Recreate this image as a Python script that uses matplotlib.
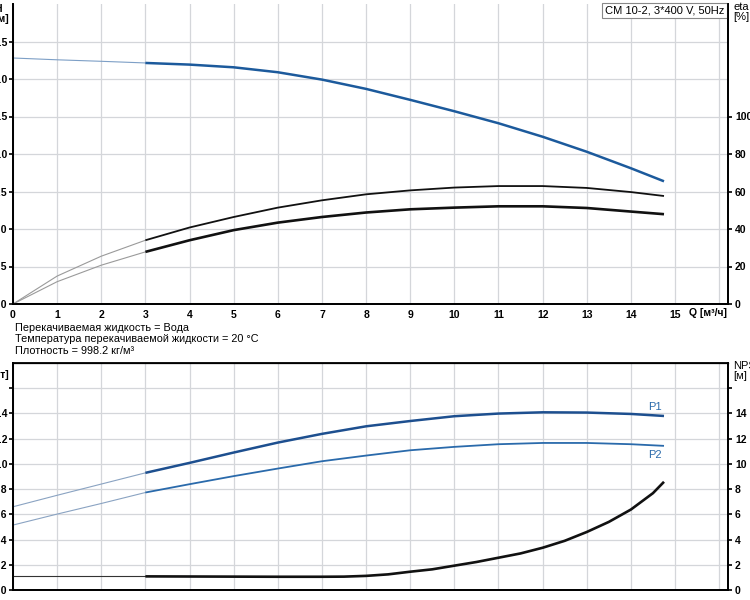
import matplotlib.pyplot as plt
import matplotlib.ticker as mticker

plt.rcParams['font.family'] = ['Liberation Sans', 'DejaVu Sans']

# flow points [m3/h]
q = [0, 1, 2, 3, 4, 5, 6, 7, 8, 9, 10, 11, 12, 13, 14, 14.75]
# head [m]
h = [16.4, 16.28, 16.18, 16.07, 15.96, 15.78, 15.45, 14.96, 14.34, 13.61,
     12.85, 12.05, 11.15, 10.15, 9.05, 8.18]
# efficiencies [%]
eta_a = [0, 14.9, 25.5, 34.0, 40.8, 46.4, 51.4, 55.3, 58.5, 60.6,
         62.1, 62.9, 62.9, 61.9, 59.7, 57.6]
eta_b = [0, 11.9, 20.7, 27.8, 34.0, 39.4, 43.4, 46.4, 48.8, 50.5,
         51.4, 52.1, 52.1, 51.2, 49.3, 47.9]
# power [kW]
p1 = [0.660, 0.751, 0.840, 0.929, 1.008, 1.090, 1.169, 1.238, 1.298, 1.340,
      1.378, 1.399, 1.409, 1.407, 1.396, 1.380]
p2 = [0.515, 0.602, 0.686, 0.773, 0.839, 0.903, 0.963, 1.021, 1.066, 1.108,
      1.135, 1.156, 1.166, 1.166, 1.156, 1.143]
# NPSH [m], read on a finer flow grid
q_npsh = [0, 1, 2, 3, 4, 5, 6, 7, 7.5, 8, 8.5, 9, 9.5, 10, 10.5, 11, 11.5,
          12, 12.5, 13, 13.5, 14, 14.5, 14.75]
npsh = [1.08, 1.08, 1.08, 1.08, 1.07, 1.06, 1.05, 1.05, 1.06, 1.12, 1.24,
        1.45, 1.64, 1.93, 2.22, 2.56, 2.9, 3.35, 3.9, 4.6, 5.4, 6.38,
        7.68, 8.58]

info = ["Перекачиваемая жидкость = Вода",
        "Температура перекачиваемой жидкости = 20 °C",
        "Плотность = 998.2 кг/м³"]

GRID = '#d4d6da'
TF = dict(fontsize=7.5, fontweight='bold')
Q_START = 3  # working range starts here


def two_part(ax, x, y, thin_c, thick_c, lw=1.6):
    k = x.index(Q_START)
    ax.plot(x[:k + 1], y[:k + 1], color=thin_c, lw=0.8)
    ax.plot(x[k:], y[k:], color=thick_c, lw=lw, solid_capstyle='butt',
            solid_joinstyle='round')


def style(ax, axr):
    ax.set_xlim(0, 16.2)
    ax.set_xticks(range(0, 17))
    ax.grid(True, color=GRID, lw=0.9)
    ax.set_axisbelow(True)
    ax.tick_params(axis='both', length=3, width=1.2, pad=1, labelsize=7.5)
    ax.tick_params(axis='x', length=0, pad=4)
    axr.tick_params(axis='y', length=3, width=1.2, pad=2, labelsize=7.5)
    for a in (ax, axr):
        for s in a.spines.values():
            s.set_linewidth(1.3)
        for lab in a.get_yticklabels() + a.get_xticklabels():
            lab.set_fontweight('bold')


fig = plt.figure(figsize=(7.5, 6), dpi=100)

# ---- top: H and eta ----
ax1 = fig.add_axes([13 / 750, 296 / 600, 715 / 750, 300 / 600])
ax1r = ax1.twinx()
ax1.set_ylim(0, 20)
ax1.set_yticks([0, 2.5, 5, 7.5, 10, 12.5, 15, 17.5])
ax1.yaxis.set_major_formatter(mticker.FormatStrFormatter('%.1f'))
ax1r.set_ylim(0, 160)
ax1r.set_yticks([0, 20, 40, 60, 80, 100])
ax1.spines['top'].set_visible(False)
ax1r.spines['top'].set_visible(False)
style(ax1, ax1r)
ax1.set_xticklabels([str(i) for i in range(16)] + [''], fontweight='bold')

two_part(ax1, q, h, '#7d9fc6', '#1c5a9c', lw=1.8)
two_part(ax1r, q, eta_a, '#9a9a9a', '#111111', lw=1.3)
two_part(ax1r, q, eta_b, '#9a9a9a', '#111111', lw=1.9)

ax1.text(15.74, -0.012, 'Q [м³/ч]', transform=ax1.get_xaxis_transform(),
         ha='center', va='top', **TF)
fig.text(9 / 750, 1 - 4 / 600, 'H\n[м]', ha='right', va='top',
         multialignment='left', linespacing=1.05, **TF)
fig.text(733 / 750, 1 - 2 / 600, 'eta\n[%]', ha='left', va='top',
         linespacing=1.05, fontsize=8)
ax1.text(0.995, 0.995, 'CM 10-2, 3*400 V, 50Hz', transform=ax1.transAxes,
         ha='right', va='top', fontsize=8,
         bbox=dict(boxstyle='square,pad=0.25', fc='white', ec='#888888', lw=0.8))

# ---- info text ----
for i, t in enumerate(info):
    fig.text(15 / 750, 1 - (327.7 + 11.7 * i) / 600, t, ha='left', va='center',
             fontsize=7.8)

# ---- bottom: P1/P2 and NPSH ----
ax2 = fig.add_axes([13 / 750, 10 / 600, 715 / 750, 227 / 600])
ax2r = ax2.twinx()
ax2.set_ylim(0, 1.8)
ax2.set_yticks([0, 0.2, 0.4, 0.6, 0.8, 1.0, 1.2, 1.4, 1.6])
ax2.set_yticklabels(['0.0', '0.2', '0.4', '0.6', '0.8', '1.0', '1.2', '1.4', ''])
ax2r.set_ylim(0, 18)
ax2r.set_yticks([0, 2, 4, 6, 8, 10, 12, 14, 16])
ax2r.set_yticklabels(['0', '2', '4', '6', '8', '10', '12', '14', ''])
style(ax2, ax2r)
ax2.tick_params(axis='x', labelbottom=False)
ax2.spines['top'].set_linewidth(0.9)

two_part(ax2, q, p1, '#8aa3c2', '#1d4f8f', lw=1.8)
two_part(ax2, q, p2, '#8aa3c2', '#2a6aab', lw=1.3)
two_part(ax2r, q_npsh, npsh, '#333333', '#111111', lw=1.9)

ax2.text(14.55, p1[-1] + 0.03, 'P1', color='#2a6aab', fontsize=8, ha='center', va='bottom')
ax2.text(14.55, p2[-1] - 0.03, 'P2', color='#2a6aab', fontsize=8, ha='center', va='top')
fig.text(9 / 750, 1 - 360 / 600, 'P\n[кВт]', ha='right', va='top',
         multialignment='left', linespacing=1.0, **TF)
fig.text(733 / 750, 1 - 361 / 600, 'NPSH\n[м]', ha='left', va='top',
         linespacing=1.05, fontsize=8)

fig.savefig('out.png', dpi=100)
